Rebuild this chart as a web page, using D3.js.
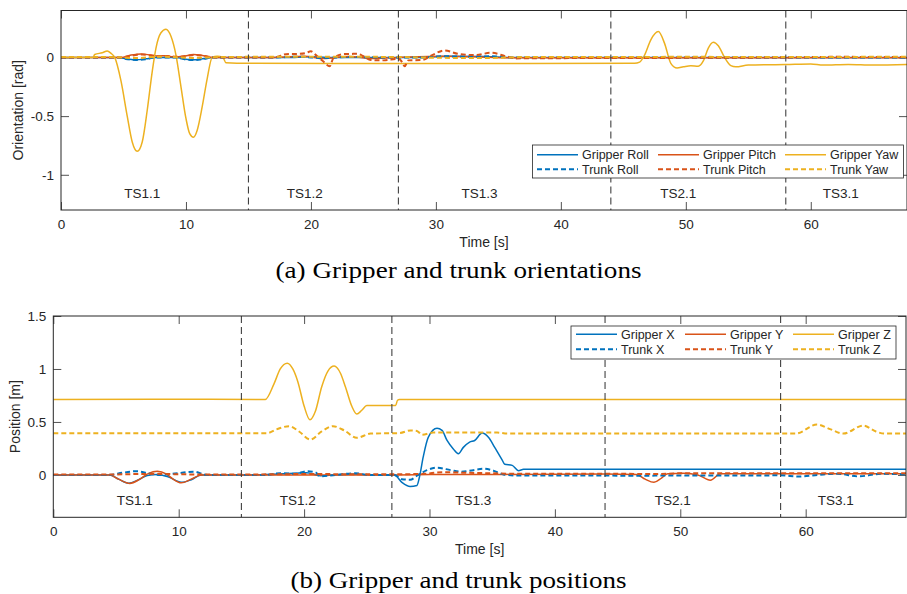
<!DOCTYPE html>
<html>
<head>
  <meta charset="utf-8">
  <script src="https://d3js.org/d3.v7.min.js"></script>
  <style>
    body { margin: 0; background: #fff; }
    svg { font-family: "Liberation Sans", Arial, sans-serif; }
    .tick text { font-size: 13.5px; fill: #262626; }
    .tick line { stroke: #262626; stroke-width: 0.8; }
  </style>
</head>
<body>
  <div id="chart"></div>
  <script>
    // task segment boundaries and labels (seconds)
    var segBounds = [15, 27, 44, 58];
    var segLabels = ["TS1.1", "TS1.2", "TS1.3", "TS2.1", "TS3.1"];
    var segLabelTimes = [6.5, 19.5, 33.5, 49.4, 62.4];
    var xTicks = [0, 10, 20, 30, 40, 50, 60];

    // (a) orientations [rad], pairs of [time, value]
    var gripperRoll = [[0,0],[4.5,0],[5.3,-0.012],[6.0,-0.02],[6.8,-0.012],[7.6,0],[9.2,0],[10,-0.015],[10.6,-0.02],[11.3,-0.012],[12.2,0],[18,0],[20,0.005],[22,0],[29,0],[31,0.01],[34,0.008],[36,0],[68,0]];
    var gripperPitch = [[0,0],[4.8,0],[5.6,0.02],[6.4,0.03],[7.2,0.02],[7.8,0.012],[8.3,0.015],[9.0,0.005],[9.8,0.01],[10.6,0.025],[11.4,0.015],[12.2,0],[17,0],[19.5,0.01],[21,-0.01],[23,0.008],[25,-0.008],[27,0],[30.5,0.01],[33,0.005],[36,-0.003],[68,-0.003]];
    var gripperYaw = [[0,0],[2.55,0],[2.7,0.025],[3.3,0.04],[3.7,0.055],[4.0,0.035],[4.3,0],[4.8,-0.2],[5.3,-0.5],[5.7,-0.72],[6.1,-0.8],[6.5,-0.72],[6.9,-0.45],[7.3,-0.12],[7.6,0.08],[8.0,0.21],[8.4,0.24],[8.8,0.18],[9.2,0.02],[9.6,-0.25],[10.0,-0.52],[10.3,-0.65],[10.6,-0.68],[10.9,-0.62],[11.3,-0.42],[11.7,-0.18],[12.1,0],[12.5,0.01],[12.95,0.0],[13.2,-0.045],[15,-0.05],[30,-0.052],[45.9,-0.05],[46.3,-0.04],[46.7,0.02],[47.2,0.15],[47.8,0.22],[48.3,0.12],[48.8,-0.05],[49.3,-0.09],[49.8,-0.08],[50.4,-0.07],[51.0,-0.075],[51.4,-0.03],[51.8,0.08],[52.2,0.13],[52.6,0.1],[53.1,0.0],[53.6,-0.07],[54,-0.08],[55,-0.065],[58,-0.06],[60,-0.055],[61,-0.065],[63,-0.06],[65,-0.065],[67.7,-0.06]];
    var trunkRoll = [[0,0],[4.5,0],[5.3,-0.015],[6.0,-0.022],[6.8,-0.015],[7.6,0],[9.2,0],[10,-0.018],[10.6,-0.022],[11.3,-0.015],[12.2,0],[17,0],[19,0.006],[21,-0.005],[23,0.004],[26,0],[29,0],[30.5,0.01],[33,0.006],[34.5,0.01],[36,0],[68,0]];
    var trunkPitch = [[0,0],[4.8,0],[5.6,0.015],[6.5,0.025],[7.3,0.015],[8.0,0.01],[8.5,0.012],[9.3,0.005],[10,0.012],[10.7,0.022],[11.5,0.012],[12.3,0],[17.0,0],[17.3,0.005],[18.0,0.028],[19.0,0.03],[19.6,0.038],[20.0,0.052],[20.4,0.02],[21.0,-0.035],[21.5,-0.075],[21.8,-0.005],[22.6,0.028],[23.2,0.03],[23.7,0.032],[24.2,0.01],[24.8,-0.022],[25.8,-0.025],[27.0,-0.012],[27.3,-0.04],[27.5,-0.075],[27.8,-0.025],[28.9,-0.022],[29.7,0.02],[30.7,0.06],[31.8,0.03],[33.2,0.02],[34.4,0.04],[35.6,0.01],[36.4,-0.008],[40,-0.006],[44,-0.005],[58,0],[62,0.005],[68,0.003]];
    var trunkYaw = [[0,0.003],[4,0.003],[6,-0.005],[8,0.006],[10.5,-0.004],[13,0.004],[20,0.006],[27,0.004],[30,-0.003],[34,-0.005],[37,0.003],[44,0.004],[50,0.005],[58,0.004],[68,0.006]];

    // (b) positions [m], pairs of [time, value]
    var gripperX = [[0,0],[4.5,0],[5.2,-0.04],[6.0,-0.078],[6.8,-0.045],[7.5,-0.005],[8.3,0.005],[9.2,-0.02],[10.2,-0.07],[11,-0.045],[11.8,0],[16,0],[18,0.008],[20.2,0.02],[21.3,-0.008],[23,0.003],[24.1,0.008],[25.2,0],[27.2,0],[27.8,-0.07],[28.45,-0.11],[29.0,-0.1],[29.2,-0.02],[29.5,0.17],[29.9,0.355],[30.6,0.44],[31.0,0.42],[31.4,0.325],[31.9,0.245],[32.3,0.2],[32.7,0.26],[33.2,0.31],[33.6,0.325],[34.2,0.395],[34.7,0.355],[35.2,0.26],[35.8,0.14],[36.0,0.1],[36.6,0.09],[37.1,0.04],[37.5,0.053],[68,0.053]];
    var gripperY = [[0,0],[4.5,0],[5.2,-0.04],[6.1,-0.08],[6.9,-0.04],[7.6,0.015],[8.3,0.035],[9.0,0.01],[9.5,-0.035],[10.2,-0.075],[11.0,-0.04],[11.8,0],[27,0],[30,0.003],[36,0.005],[44,0.008],[46.5,0.005],[47.2,-0.04],[47.9,-0.07],[48.5,-0.03],[49.0,0.01],[50.3,0.015],[51.4,0.0],[52.4,-0.05],[53.2,0.01],[58,0.012],[68,0.012]];
    var gripperZ = [[0,0.712],[8,0.715],[16.9,0.712],[17.6,0.86],[18.1,1.0],[18.66,1.055],[19.1,1.0],[19.5,0.88],[20.0,0.65],[20.47,0.52],[20.9,0.6],[21.4,0.83],[21.9,0.98],[22.4,1.027],[22.9,0.96],[23.3,0.83],[23.8,0.65],[24.2,0.575],[24.6,0.61],[25.0,0.655],[25.8,0.655],[27.3,0.655],[27.45,0.705],[27.6,0.712],[68,0.712]];
    var trunkX = [[0,0],[4.5,0],[5.5,0.02],[6.65,0.035],[7.6,0.015],[8.5,0],[9.5,0.01],[11.2,0.03],[12.3,0],[17,0],[18.1,0.016],[19.3,0.01],[20.2,0.035],[20.9,0.025],[21.3,-0.012],[22.5,0],[24.1,0.015],[25.2,0],[27.2,0],[27.8,-0.04],[28.45,-0.045],[29.1,0],[29.8,0.045],[30.6,0.068],[31.7,0.045],[32.5,0.03],[33.5,0.045],[34.3,0.058],[35.1,0.04],[35.9,0.005],[37,-0.006],[44,-0.006],[46,-0.008],[50,-0.005],[55,-0.006],[58,-0.004],[59.5,-0.015],[61,0],[62.5,0.012],[64.2,-0.014],[66,0.01],[68,0.005]];
    var trunkY = [[0,0.003],[5,0.005],[8,0.01],[11,0.005],[15,0.004],[20,0.008],[27,0.006],[29.5,0.01],[31,0.025],[33,0.02],[35,0.015],[37,0.01],[44,0.012],[48,0.008],[50,0.015],[58,0.015],[68,0.015]];
    var trunkZ = [[0,0.393],[17,0.393],[17.8,0.43],[18.8,0.46],[19.6,0.41],[20.5,0.334],[21.4,0.41],[22.3,0.46],[23.2,0.42],[24.2,0.35],[25.3,0.39],[27.6,0.395],[28.5,0.42],[29.0,0.415],[29.4,0.38],[30.3,0.4],[35.4,0.4],[36.2,0.39],[59.2,0.39],[60.9,0.475],[62.0,0.43],[63.0,0.39],[64.6,0.466],[65.6,0.41],[66.3,0.39],[68,0.39]];

    var colors = ["#0072BD", "#D95319", "#EDB120"];

    var svg = d3.select("#chart").append("svg")
      .attr("width", 907)
      .attr("height", 594);

    function drawPanel(cfg, id) {
      var x = d3.scaleLinear().domain([0, cfg.xMax]).range([cfg.left, cfg.right]);
      var y = d3.scaleLinear().domain(cfg.yDomain).range([cfg.bottom, cfg.top]);
      var g = svg.append("g");

      g.append("clipPath").attr("id", id)
        .append("rect")
        .attr("x", cfg.left).attr("y", cfg.top)
        .attr("width", cfg.right - cfg.left).attr("height", cfg.bottom - cfg.top);

      // axes, ticks pointing inward on all four sides
      g.append("g").attr("transform", "translate(0," + cfg.bottom + ")")
        .call(d3.axisBottom(x).tickValues(xTicks).tickSize(-8).tickSizeOuter(0).tickPadding(9).tickFormat(d => String(d)))
        .call(a => a.select(".domain").remove());
      g.append("g").attr("transform", "translate(0," + cfg.top + ")")
        .call(d3.axisTop(x).tickValues(xTicks).tickSize(-8).tickSizeOuter(0).tickFormat(""))
        .call(a => a.select(".domain").remove());
      g.append("g").attr("transform", "translate(" + cfg.left + ",0)")
        .call(d3.axisLeft(y).tickValues(cfg.yTicks).tickSize(-8).tickSizeOuter(0).tickPadding(7).tickFormat(d => String(d)))
        .call(a => a.select(".domain").remove());
      g.append("g").attr("transform", "translate(" + cfg.right + ",0)")
        .call(d3.axisRight(y).tickValues(cfg.yTicks).tickSize(-8).tickSizeOuter(0).tickFormat(""))
        .call(a => a.select(".domain").remove());

      var line = d3.line()
        .x(d => x(d[0]))
        .y(d => y(d[1]))
        .curve(d3.curveMonotoneX);

      var plot = g.append("g").attr("clip-path", "url(#" + id + ")");
      cfg.series.forEach(function (s) {
        plot.append("path")
          .attr("d", line(s.data))
          .attr("fill", "none")
          .attr("stroke", s.color)
          .attr("stroke-width", s.dashed ? 2 : 1.5)
          .attr("stroke-dasharray", s.dashed ? "5,3" : null)
          .attr("stroke-linejoin", "round");
      });

      // segment separators
      plot.selectAll(".seg").data(segBounds).join("line")
        .attr("x1", d => x(d)).attr("x2", d => x(d))
        .attr("y1", cfg.top).attr("y2", cfg.bottom)
        .attr("stroke", "#404040")
        .attr("stroke-width", 1.1)
        .attr("stroke-dasharray", "7,4");

      g.selectAll(".seglabel").data(segLabels).join("text")
        .attr("x", (d, i) => x(segLabelTimes[i]))
        .attr("y", cfg.bottom - 12)
        .attr("text-anchor", "middle")
        .attr("font-size", 13.5)
        .attr("fill", "#262626")
        .text(d => d);

      // box
      g.append("rect")
        .attr("x", cfg.left).attr("y", cfg.top)
        .attr("width", cfg.right - cfg.left).attr("height", cfg.bottom - cfg.top)
        .attr("fill", "none").attr("stroke", "#262626").attr("stroke-width", 1);

      // legend
      var L = cfg.legend;
      var lg = g.append("g");
      lg.append("rect")
        .attr("x", L.x).attr("y", L.y).attr("width", L.w).attr("height", L.h)
        .attr("fill", "#fff").attr("stroke", "#262626").attr("stroke-width", 0.8);
      cfg.series.forEach(function (s, i) {
        var col = i % 3, row = Math.floor(i / 3);
        var lx = L.cols[col], ly = L.rows[row];
        lg.append("line")
          .attr("x1", lx).attr("x2", lx + 41).attr("y1", ly).attr("y2", ly)
          .attr("stroke", s.color)
          .attr("stroke-width", s.dashed ? 2 : 1.5)
          .attr("stroke-dasharray", s.dashed ? "5,3" : null);
        lg.append("text")
          .attr("x", lx + 45).attr("y", ly).attr("dy", "0.35em")
          .attr("font-size", 12.5).attr("fill", "#262626")
          .text(s.name);
      });

      // axis labels
      g.append("text")
        .attr("x", (cfg.left + cfg.right) / 2).attr("y", cfg.xLabelY)
        .attr("text-anchor", "middle").attr("font-size", 14).attr("fill", "#262626")
        .text("Time [s]");
      g.append("text")
        .attr("transform", "translate(" + cfg.yLabelX + "," + (cfg.top + cfg.bottom) / 2 + ") rotate(-90)")
        .attr("text-anchor", "middle").attr("font-size", 14).attr("fill", "#262626")
        .text(cfg.yLabel);

      // caption
      g.append("text")
        .attr("x", 458.5 - cfg.captionW / 2).attr("y", cfg.captionY)
        .attr("font-family", "'Liberation Serif', 'Times New Roman', serif")
        .attr("font-size", 23).attr("fill", "#000")
        .attr("textLength", cfg.captionW).attr("lengthAdjust", "spacingAndGlyphs")
        .text(cfg.caption);
    }

    drawPanel({
      left: 61, right: 907, top: 10.5, bottom: 210, xMax: 67.7,
      yDomain: [-1.3, 0.4], yTicks: [-1, -0.5, 0],
      series: [
        { name: "Gripper Roll", data: gripperRoll, color: colors[0], dashed: false },
        { name: "Gripper Pitch", data: gripperPitch, color: colors[1], dashed: false },
        { name: "Gripper Yaw", data: gripperYaw, color: colors[2], dashed: false },
        { name: "Trunk Roll", data: trunkRoll, color: colors[0], dashed: true },
        { name: "Trunk Pitch", data: trunkPitch, color: colors[1], dashed: true },
        { name: "Trunk Yaw", data: trunkYaw, color: colors[2], dashed: true }
      ],
      legend: { x: 532.5, y: 145, w: 371, h: 33, cols: [537, 658, 785], rows: [154.7, 169.3] },
      xLabelY: 247, yLabelX: 23, yLabel: "Orientation [rad]",
      caption: "(a) Gripper and trunk orientations", captionW: 366, captionY: 277.5
    }, "clipA");

    drawPanel({
      left: 53.3, right: 906, top: 316, bottom: 517.3, xMax: 68,
      yDomain: [-0.4, 1.5], yTicks: [0, 0.5, 1, 1.5],
      series: [
        { name: "Gripper X", data: gripperX, color: colors[0], dashed: false },
        { name: "Gripper Y", data: gripperY, color: colors[1], dashed: false },
        { name: "Gripper Z", data: gripperZ, color: colors[2], dashed: false },
        { name: "Trunk X", data: trunkX, color: colors[0], dashed: true },
        { name: "Trunk Y", data: trunkY, color: colors[1], dashed: true },
        { name: "Trunk Z", data: trunkZ, color: colors[2], dashed: true }
      ],
      legend: { x: 571, y: 326, w: 325, h: 33, cols: [576, 685, 793], rows: [334.3, 349.3] },
      xLabelY: 553.5, yLabelX: 19.5, yLabel: "Position [m]",
      caption: "(b) Gripper and trunk positions", captionW: 336, captionY: 587.5
    }, "clipB");
  </script>
</body>
</html>
